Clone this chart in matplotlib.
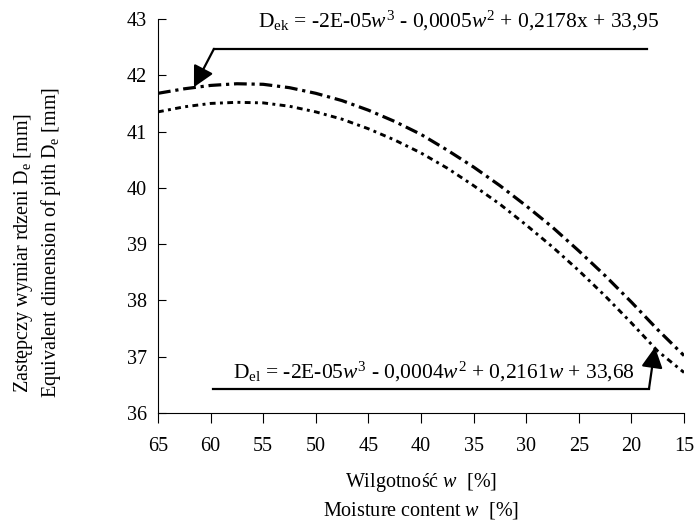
import matplotlib
matplotlib.use("Agg")
import matplotlib.pyplot as plt

plt.rcParams["font.family"] = ["Liberation Serif", "DejaVu Serif"]
plt.rcParams["mathtext.fontset"] = "custom"
plt.rcParams["mathtext.rm"] = "Liberation Serif"
plt.rcParams["mathtext.it"] = "Liberation Serif:italic"

# moisture content w [%] (axis runs 65 -> 15)
w = [65, 62.5, 60, 57.5, 55, 52.5, 50, 47.5, 45, 42.5, 40,
     37.5, 35, 32.5, 30, 27.5, 25, 22.5, 20, 17.5, 15]
# equivalent pith dimension, upper curve D_ek [mm]
d_ek = [41.68, 41.76, 41.82, 41.85, 41.84, 41.78, 41.68, 41.55, 41.38, 41.18, 40.95,
        40.67, 40.37, 40.04, 39.68, 39.30, 38.88, 38.44, 37.97, 37.48, 37.02]
# lower curve D_el [mm]
d_el = [41.35, 41.44, 41.50, 41.52, 41.51, 41.45, 41.35, 41.22, 41.05, 40.85, 40.62,
        40.35, 40.04, 39.71, 39.34, 38.95, 38.53, 38.08, 37.60, 37.10, 36.72]

xticks = [65, 60, 55, 50, 45, 40, 35, 30, 25, 20, 15]
yticks = [36, 37, 38, 39, 40, 41, 42, 43]

eq_ek = r"D$_\mathregular{ek}$ = -2E-05$w^3$ - 0,0005$w^2$ + 0,2178x + 33,95"
eq_el = r"D$_\mathregular{el}$ = -2E-05$w^3$ - 0,0004$w^2$ + 0,2161$w$ + 33,68"

FS = 14.5
FS_EQ = 15.5

fig = plt.figure(figsize=(6.95, 5.21), dpi=100)
ax = fig.add_axes([0.2273, 0.2073, 0.7569, 0.7562])

ax.plot(w, d_ek, color="black", lw=2.3, linestyle=(0, (4, 1.5, 1, 1.5)))
ax.plot(w, d_el, color="black", lw=2.1, linestyle=(0, (2, 1.5, 1, 1.5)))

ax.set_xlim(65, 15)
ax.set_ylim(36, 43)
ax.set_xticks(xticks)
ax.set_yticks(yticks)
ax.tick_params(axis="x", direction="out", length=7, labelsize=FS, pad=10)
ax.tick_params(axis="y", direction="in", length=6, labelsize=FS, pad=8)
for s in ["top", "right"]:
    ax.spines[s].set_visible(False)

arrow = dict(arrowstyle="-|>,head_length=1.25,head_width=0.65",
             mutation_scale=10, color="black", lw=1.6, shrinkA=0, shrinkB=0)

# upper equation with leader line and arrow
ax.text(55.5, 42.96, eq_ek, fontsize=FS_EQ, ha="left", va="center")
ax.plot([59.68, 18.52], [42.47, 42.47], color="black", lw=1.6, clip_on=False)
ax.annotate("", xy=(61.58, 41.79), xytext=(59.68, 42.47), arrowprops=arrow)

# lower equation with leader line and arrow
ax.text(57.87, 36.73, eq_el, fontsize=FS_EQ, ha="left", va="center")
ax.plot([59.77, 18.33], [36.43, 36.43], color="black", lw=1.6)
ax.annotate("", xy=(17.76, 37.17), xytext=(18.33, 36.43), arrowprops=arrow)

fig.text(0.606, 0.073, r"Wilgotność $w$  [%]", fontsize=FS, ha="center", va="center")
fig.text(0.606, 0.021, r"Moisture content $w$  [%]", fontsize=FS, ha="center", va="center")
fig.text(0.034, 0.515, r"Zastępczy wymiar rdzeni D$_\mathregular{e}$ [mm]",
         fontsize=FS, rotation=90, ha="center", va="center")
fig.text(0.073, 0.535, r"Equivalent dimension of pith D$_\mathregular{e}$ [mm]",
         fontsize=FS, rotation=90, ha="center", va="center")

fig.savefig("out.png", dpi=100)
